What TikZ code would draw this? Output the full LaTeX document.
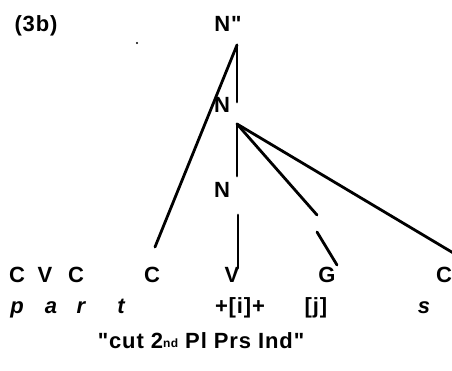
\documentclass[tikz,border=0pt]{standalone}
\usepackage{fontspec}
\setmainfont{Liberation Sans}[Ligatures=TeXOff]
\begin{document}
\begin{tikzpicture}[x=1pt,y=-1pt,
  txt/.style={font=\fontsize{22}{22}\selectfont\bfseries\addfontfeature{LetterSpace=4}, inner sep=0pt, anchor=base},
  itxt/.style={font=\fontsize{22}{22}\selectfont\bfseries\itshape, inner sep=0pt, anchor=base},
  branch/.style={line width=2.8pt, line cap=round}]
\useasboundingbox (0,0) rectangle (452,371);
\clip (0,0) rectangle (452,371);
% labels
\node[txt] (lab) at (36,32) {(3b)};
\node[txt] (Ntop) at (228,32) {N"};
\node[txt] (Nmid) at (222,113) {N};
\node[txt] (Nlow) at (222,198) {N};
\fill (137,43) circle (1.1pt);
% skeleton row
\node[txt] (c1) at (17,282) {C};
\node[txt] (v1) at (45,282) {V};
\node[txt] (c2) at (76,282) {C};
\node[txt] (cC) at (152,282) {C};
\node[txt] (cV) at (232,282) {V};
\node[txt] (cG) at (327,282) {G};
\node[txt] (cC2) at (444,282) {C};
% segment row
\node[itxt] (sp) at (17,313) {p};
\node[itxt] (sa) at (51,313) {a};
\node[itxt] (sr) at (81,313) {r};
\node[itxt] (st) at (121,313) {t};
\node[txt] (si) at (240,313) {+[i]+};
\node[txt] (sj) at (316,313) {[j]};
\node[itxt] (ss) at (424,313) {s};
% gloss
\node[txt] (gloss) at (201,348) {"cut 2\raisebox{1pt}{\fontsize{12}{12}\selectfont nd} Pl Prs Ind"};
% coordinates for branch ends
\coordinate (apA) at (237,45);
\coordinate (apAe) at (237,102);
\coordinate (apB) at (237,124);
\coordinate (apBe) at (237,176);
\coordinate (vTop) at (238,215);
\coordinate (vEnd) at (238,268);
\coordinate (cEnd) at (155,247);
\coordinate (gA) at (317,215);
\coordinate (gB) at (317,232);
\coordinate (gEnd) at (337,265);
\coordinate (c2End) at (455,254);
% branches
\draw[branch] (apA) -- (cEnd);
\draw[branch] (apA) -- (apAe);
\draw[branch] (apB) -- (apBe);
\draw[branch] (vTop) -- (vEnd);
\draw[branch] (apB) -- (gA);
\draw[branch] (gB) -- (gEnd);
\draw[branch] (apB) -- (c2End);
\end{tikzpicture}
\end{document}
